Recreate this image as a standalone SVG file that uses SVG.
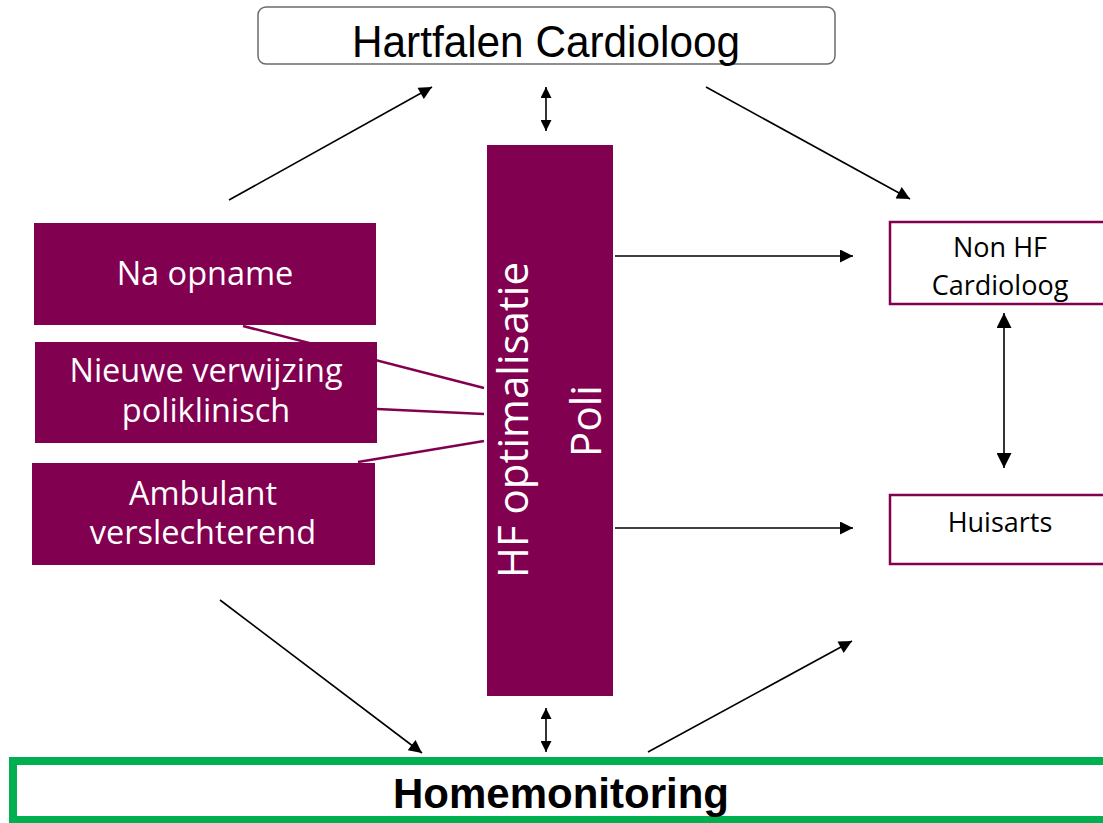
<svg xmlns="http://www.w3.org/2000/svg" width="1103" height="823" viewBox="0 0 1103 823">
<style>
.pbox{fill:#820050;}
.wt{font-family:"Open Sans","Noto Sans",sans-serif;fill:#ffffff;text-anchor:middle;}
.bt{font-family:"Open Sans","Noto Sans",sans-serif;fill:#000000;text-anchor:middle;font-size:27px;}
.ar{stroke:#000;stroke-width:1.6;fill:none;}
.pl{stroke:#820050;stroke-width:2.5;fill:none;}
.obox{fill:#fff;stroke:#820050;stroke-width:2.5;}
</style>
<defs>
<marker id="ah" viewBox="0 0 10 10" refX="10" refY="5" markerUnits="userSpaceOnUse" markerWidth="18" markerHeight="13" orient="auto-start-reverse"><path d="M0,0 L10,5 L0,10 z" fill="#000"/></marker>
<marker id="ahs" viewBox="0 0 10 10" refX="10" refY="5" markerUnits="userSpaceOnUse" markerWidth="15" markerHeight="11" orient="auto-start-reverse"><path d="M0,0 L10,5 L0,10 z" fill="#000"/></marker>
<marker id="ahl" viewBox="0 0 10 10" refX="10" refY="5" markerUnits="userSpaceOnUse" markerWidth="21" markerHeight="15" orient="auto-start-reverse"><path d="M0,0 L10,5 L0,10 z" fill="#000"/></marker>
</defs>
<rect width="1103" height="823" fill="#ffffff"/>
<g id="connectors">
<line class="ar" x1="229" y1="200" x2="432" y2="87" marker-end="url(#ah)"/>
<line class="ar" x1="706" y1="87" x2="910" y2="199" marker-end="url(#ah)"/>
<line class="ar" x1="615" y1="256" x2="853" y2="256" marker-end="url(#ah)"/>
<line class="ar" x1="615" y1="528" x2="853" y2="528" marker-end="url(#ah)"/>
<line class="ar" x1="1004" y1="313" x2="1004" y2="468" marker-start="url(#ahl)" marker-end="url(#ahl)"/>
<line class="ar" x1="546" y1="87" x2="546" y2="131" marker-start="url(#ahs)" marker-end="url(#ahs)"/>
<line class="ar" x1="220" y1="600" x2="422" y2="753" marker-end="url(#ah)"/>
<line class="ar" x1="546" y1="708" x2="546" y2="752" marker-start="url(#ahs)" marker-end="url(#ahs)"/>
<line class="ar" x1="648" y1="752" x2="852" y2="641" marker-end="url(#ah)"/>
<line class="pl" x1="484" y1="388" x2="243" y2="326"/>
<line class="pl" x1="484" y1="414" x2="377" y2="409"/>
<line class="pl" x1="484" y1="441" x2="358" y2="462"/>
</g>
<g id="hartfalen">
<rect x="258" y="7" width="577" height="57" rx="8" fill="#fff" stroke="#6b6b6b" stroke-width="1.5"/>
<text x="546" y="57" font-family="'Liberation Sans',Arial,sans-serif" font-size="44" text-anchor="middle" fill="#000" textLength="388" lengthAdjust="spacingAndGlyphs">Hartfalen Cardioloog</text>
</g>
<g id="na-opname">
<rect class="pbox" x="34" y="223" width="342" height="102"/>
<text class="wt" x="205" y="285" font-size="32.5">Na opname</text>
</g>
<g id="nieuwe-verwijzing">
<rect class="pbox" x="35" y="342" width="342" height="101"/>
<text class="wt" x="206" y="382" font-size="32.5">Nieuwe verwijzing</text>
<text class="wt" x="206" y="422" font-size="32.5">poliklinisch</text>
</g>
<g id="ambulant">
<rect class="pbox" x="32" y="463" width="343" height="102"/>
<text class="wt" x="203" y="505" font-size="32.5">Ambulant</text>
<text class="wt" x="203" y="544" font-size="32.5">verslechterend</text>
</g>
<g id="hf-poli">
<rect class="pbox" x="487" y="145" width="126" height="551"/>
<text class="wt" font-size="42" transform="translate(528,420) rotate(-90)">HF optimalisatie</text>
<text class="wt" font-size="42" transform="translate(601,421) rotate(-90)">Poli</text>
</g>
<g id="non-hf">
<rect class="obox" x="890" y="222" width="220" height="82"/>
<text class="bt" x="1000" y="257">Non HF</text>
<text class="bt" x="1000" y="295">Cardioloog</text>
</g>
<g id="huisarts">
<rect class="obox" x="890" y="495" width="220" height="69"/>
<text class="bt" x="1000" y="532">Huisarts</text>
</g>
<g id="homemonitoring">
<rect x="13" y="761" width="1100" height="59" fill="#fff" stroke="#00b050" stroke-width="8"/>
<text x="561" y="808" font-family="'Liberation Sans',Arial,sans-serif" font-size="42" font-weight="bold" text-anchor="middle" fill="#000">Homemonitoring</text>
</g>
</svg>
